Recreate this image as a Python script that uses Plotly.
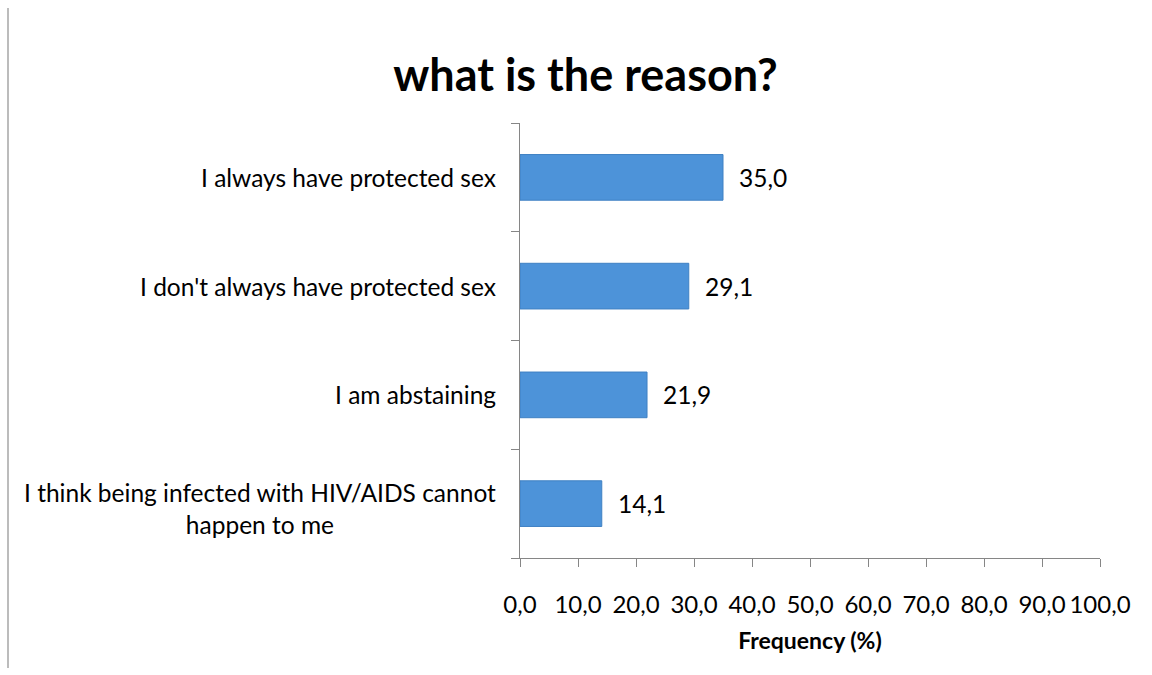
import plotly.graph_objects as go

# Survey responses (percent of respondents)
categories = [
    "I think being infected with HIV/AIDS cannot<br>happen to me",
    "I am abstaining",
    "I don't always have protected sex",
    "I always have protected sex",
]
values = [14.1, 21.9, 29.1, 35.0]
x_ticks = [0, 10, 20, 30, 40, 50, 60, 70, 80, 90, 100]
x_tick_labels = [f"{v:.1f}".replace(".", ",") for v in x_ticks]

FONT = "Lato"
AXIS_GREY = "#868686"

fig = go.Figure()
fig.add_trace(go.Bar(
    x=values,
    y=categories,
    orientation="h",
    width=0.42,
    marker=dict(color="#4d93d9", line=dict(color="#3f80c3", width=1)),
    hoverinfo="skip",
))

annotations = []
# value labels to the right of each bar
for cat, v in zip(categories, values):
    annotations.append(dict(
        x=v, y=cat, xref="x", yref="y",
        text=f"{v:.1f}".replace(".", ","),
        showarrow=False, xanchor="left", xshift=14,
        font=dict(family=FONT, size=24.5, color="#000000"),
    ))
# category labels, each line centred; the two-line label sits slightly low
for cat in categories:
    two_line = "<br>" in cat
    annotations.append(dict(
        x=0, y=cat, xref="paper", yref="y",
        text=cat, showarrow=False, xanchor="right", align="center",
        xshift=-22, yshift=-5 if two_line else 0,
        font=dict(family=FONT, size=24.5, color="#000000"),
    ))

fig.update_layout(
    width=1152, height=675,
    margin=dict(l=520, r=52, t=123, b=117),
    paper_bgcolor="white", plot_bgcolor="white",
    showlegend=False,
    title=dict(
        text="<b>what is the reason?</b>",
        x=585.5 / 1152, xref="container", xanchor="center",
        y=1 - 75 / 675, yref="container", yanchor="middle",
        font=dict(family=FONT, size=45, color="#000000"),
    ),
    annotations=annotations,
    shapes=[dict(
        type="line", xref="paper", yref="paper",
        x0=(8 - 520) / 580, x1=(8 - 520) / 580,
        y0=(558 - 8) / 435, y1=(558 - 668) / 435,
        line=dict(color="#a6a6a6", width=1.5),
    )],
)

fig.update_xaxes(
    range=[0, 100],
    tickvals=x_ticks, ticktext=x_tick_labels,
    showgrid=False, zeroline=False,
    showline=True, linecolor=AXIS_GREY, linewidth=1,
    ticks="outside", ticklen=8, tickcolor=AXIS_GREY,
    ticklabelstandoff=17,
    tickfont=dict(family=FONT, size=24, color="#000000"),
    title=dict(text="<b>Frequency (%)</b>", standoff=16,
               font=dict(family=FONT, size=23, color="#000000")),
    fixedrange=True,
)
fig.update_yaxes(
    type="category", categoryorder="array", categoryarray=categories,
    showgrid=False, zeroline=False,
    showline=True, linecolor=AXIS_GREY, linewidth=1,
    ticks="outside", ticklen=8, tickcolor=AXIS_GREY,
    tickson="boundaries", showticklabels=False,
    fixedrange=True,
)

fig.write_html("out.html")
